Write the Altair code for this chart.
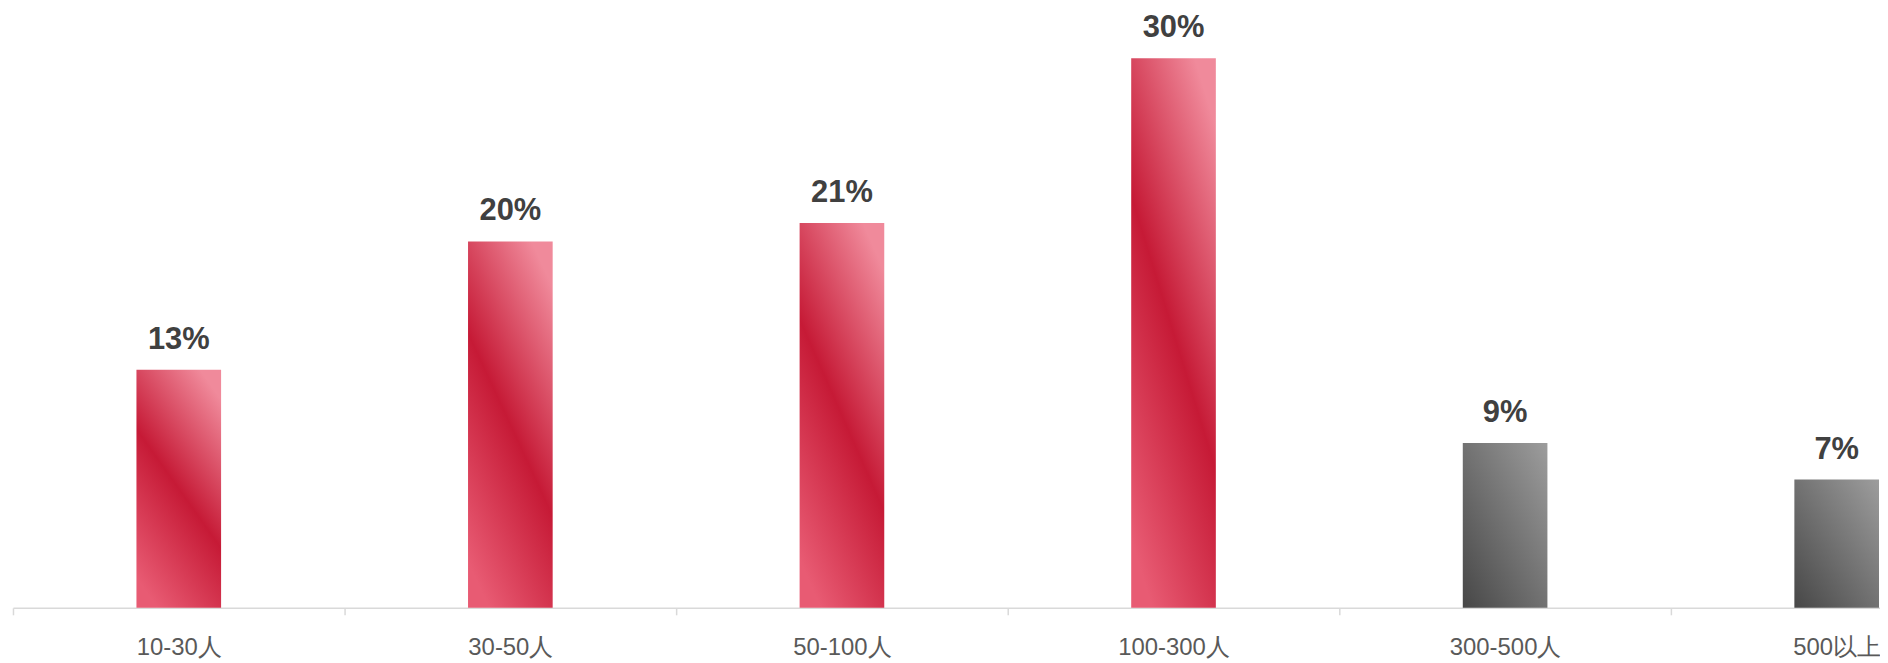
import altair as alt
import pandas as pd

categories = ["10-30人", "30-50人", "50-100人", "100-300人", "300-500人", "500以上"]
shares = [13, 20, 21, 30, 9, 7]
share_labels = ["13%", "20%", "21%", "30%", "9%", "7%"]
gray_categories = ["300-500人", "500以上"]

df = pd.DataFrame({"category": categories, "share": shares, "label": share_labels})

red_gradient = alt.LinearGradient(
    gradient="linear", x1=0.25, y1=1, x2=0.75, y2=0,
    stops=[
        alt.GradientStop(offset=0, color="#e85b73"),
        alt.GradientStop(offset=0.5, color="#c61a36"),
        alt.GradientStop(offset=1, color="#f08a9b"),
    ],
)
gray_gradient = alt.LinearGradient(
    gradient="linear", x1=0, y1=1, x2=1, y2=0,
    stops=[
        alt.GradientStop(offset=0, color="#474747"),
        alt.GradientStop(offset=1, color="#9d9d9d"),
    ],
)

x_enc = alt.X(
    "category:N",
    sort=categories,
    scale=alt.Scale(domain=categories, range=[0, 1998], paddingInner=0, paddingOuter=0),
    axis=alt.Axis(
        title=None, labelAngle=0, labelFont="Liberation Sans", labelFontSize=24,
        labelColor="#595959", tickBand="extent", tickSize=7, tickColor="#d9d9d9",
        tickWidth=1.5, domainColor="#d9d9d9", domainWidth=1.5, labelPadding=21,
        grid=False,
    ),
)
y_enc = alt.Y("share:Q", scale=alt.Scale(domain=[0, 30], nice=False), axis=None)

base = alt.Chart(df).encode(x=x_enc, y=y_enc)

red_bars = base.transform_filter(
    alt.FieldOneOfPredicate(field="category", oneOf=[c for c in categories if c not in gray_categories])
).mark_bar(size=85, color=red_gradient)

gray_bars = base.transform_filter(
    alt.FieldOneOfPredicate(field="category", oneOf=gray_categories)
).mark_bar(size=85, color=gray_gradient)

labels = base.mark_text(
    dy=-21, baseline="alphabetic", fontSize=31, fontWeight="bold",
    font="Liberation Sans", color="#404040",
).encode(text="label:N")

chart = (
    alt.layer(red_bars, gray_bars, labels)
    .properties(
        width=1875, height=552,
        background="white",
        autosize=alt.AutoSizeParams(type="none"),
        padding={"left": 5, "top": 49, "right": 0, "bottom": 54},
    )
    .configure_view(strokeWidth=0, stroke="transparent")
)

chart.save("out.html", embed_options={"renderer": "svg", "actions": False})
